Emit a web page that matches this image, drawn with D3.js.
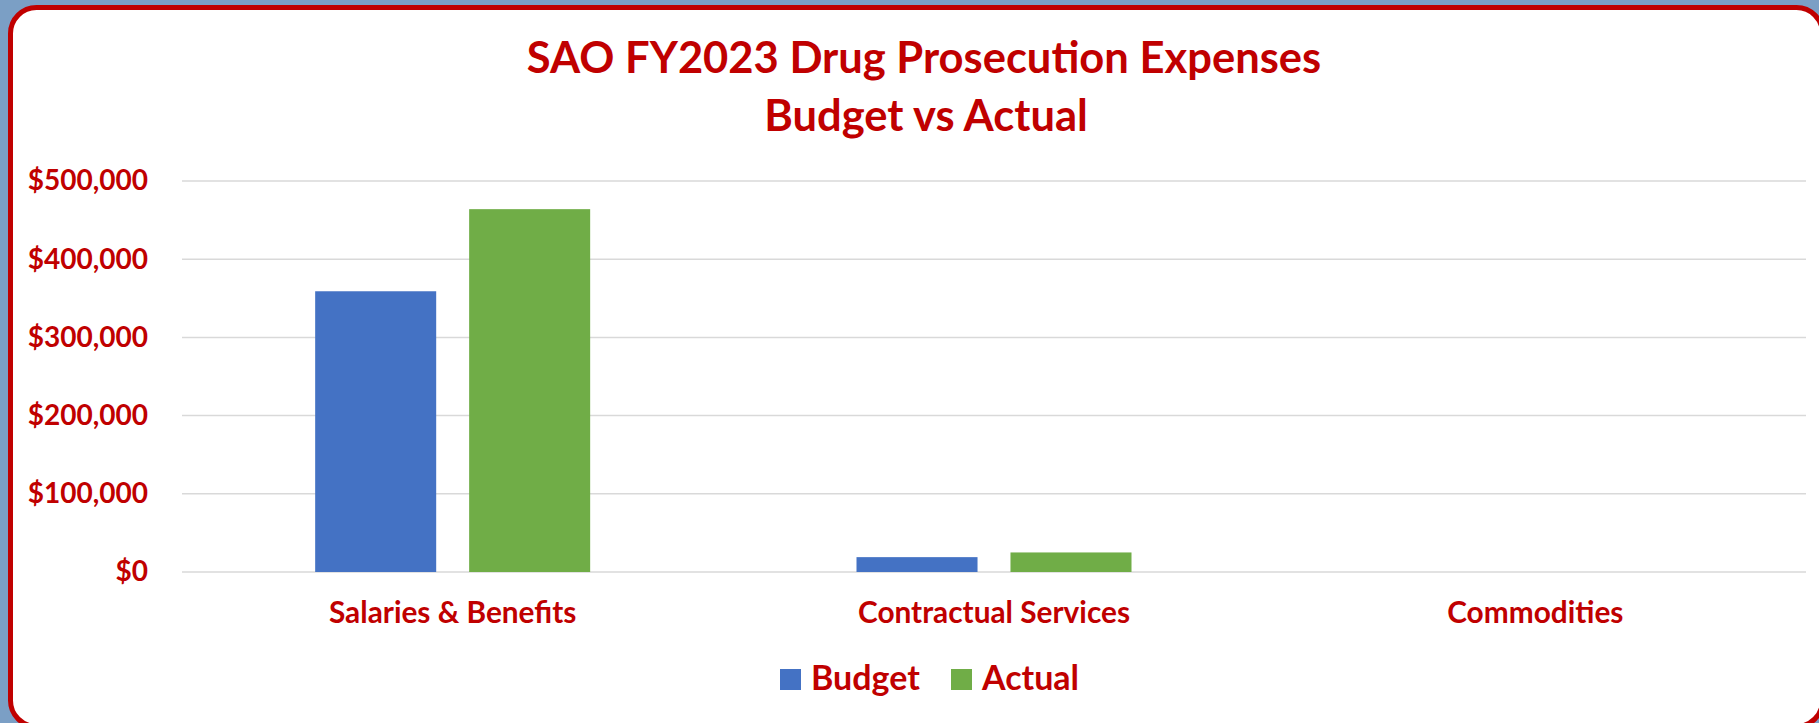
<!DOCTYPE html>
<head>
  <meta charset="utf-8">
  <script src="https://d3js.org/d3.v7.min.js"></script>
  <style>
    body { margin:0; background:#7b9fc5; overflow:hidden; }
    text { font-family: Lato, "Open Sans", sans-serif; font-weight: bold; fill: #c00000; }
    .grid line { stroke: #d9d9d9; stroke-width: 1.5px; }
  </style>
</head>

<body>
  <script>
    var W = 1819, H = 723;
    var margin = { top: 181, right: 13, bottom: 151, left: 182 };
    var width = W - margin.left - margin.right;
    var height = H - margin.top - margin.bottom;

    var categories = ["Salaries & Benefits", "Contractual Services", "Commodities"];
    var seriesNames = ["Budget", "Actual"];
    var budget = [359000, 19000, 0];
    var actual = [464000, 25000, 0];
    var yTicks = [0, 100000, 200000, 300000, 400000, 500000];
    var colors = ["#4472c4", "#70ad47"];

    var data = categories.map(function(c, i) {
      return { name: c, values: [budget[i], actual[i]] };
    });

    var svg = d3.select("body").append("svg")
      .attr("width", W)
      .attr("height", H);

    // chart frame
    svg.append("rect")
      .attr("x", 10.5).attr("y", 7.5)
      .attr("width", 1812).attr("height", 719)
      .attr("rx", 26).attr("ry", 26)
      .attr("fill", "#fff")
      .attr("stroke", "#c00000")
      .attr("stroke-width", 5);

    // title
    var title = svg.append("text")
      .attr("text-anchor", "middle")
      .style("font-size", "43.5px");
    title.append("tspan").attr("x", 924).attr("y", 73).text("SAO FY2023 Drug Prosecution Expenses");
    title.append("tspan").attr("x", 926).attr("y", 131).text("Budget vs Actual");

    var g = svg.append("g")
      .attr("transform", "translate(" + margin.left + "," + margin.top + ")");

    var x0 = d3.scaleBand()
      .domain(categories)
      .range([0, width])
      .paddingInner(0.492)
      .paddingOuter(0.246);

    var x1 = d3.scaleBand()
      .domain(seriesNames)
      .range([0, x0.bandwidth()])
      .paddingInner(0.214);

    var y = d3.scaleLinear()
      .domain([0, 500000])
      .range([height, 0]);

    // gridlines
    g.append("g")
      .attr("class", "grid")
      .selectAll("line")
      .data(yTicks)
      .enter().append("line")
      .attr("x1", 0).attr("x2", width)
      .attr("y1", function(d) { return y(d); })
      .attr("y2", function(d) { return y(d); });

    // y axis labels
    var yAxis = g.append("g")
      .call(d3.axisLeft(y).tickValues(yTicks).tickFormat(d3.format("$,")).tickSize(0).tickPadding(34));
    yAxis.select(".domain").remove();
    yAxis.selectAll("text").style("font-size", "28px").attr("fill", "#c00000");

    // bars
    var groups = g.selectAll(".cat")
      .data(data)
      .enter().append("g")
      .attr("class", "cat")
      .attr("transform", function(d) { return "translate(" + x0(d.name) + ",0)"; });

    groups.selectAll("rect")
      .data(function(d) { return d.values.map(function(v, i) { return { key: seriesNames[i], value: v }; }); })
      .enter().append("rect")
      .attr("x", function(d) { return x1(d.key); })
      .attr("y", function(d) { return y(d.value); })
      .attr("width", x1.bandwidth())
      .attr("height", function(d) { return height - y(d.value); })
      .attr("fill", function(d, i) { return colors[i]; });

    // x axis labels
    var xAxis = g.append("g")
      .attr("transform", "translate(0," + height + ")")
      .call(d3.axisBottom(x0).tickSize(0).tickPadding(30));
    xAxis.select(".domain").remove();
    xAxis.selectAll("text").style("font-size", "29.8px").attr("fill", "#c00000");

    // legend
    var legendX = [780, 951];
    var legend = svg.append("g").selectAll("g")
      .data(seriesNames)
      .enter().append("g")
      .attr("transform", function(d, i) { return "translate(" + legendX[i] + ",669)"; });
    legend.append("rect")
      .attr("width", 21).attr("height", 21)
      .attr("fill", function(d, i) { return colors[i]; });
    legend.append("text")
      .attr("x", 31).attr("y", 20.5)
      .style("font-size", "34px")
      .text(function(d) { return d; });
  </script>
</body>
